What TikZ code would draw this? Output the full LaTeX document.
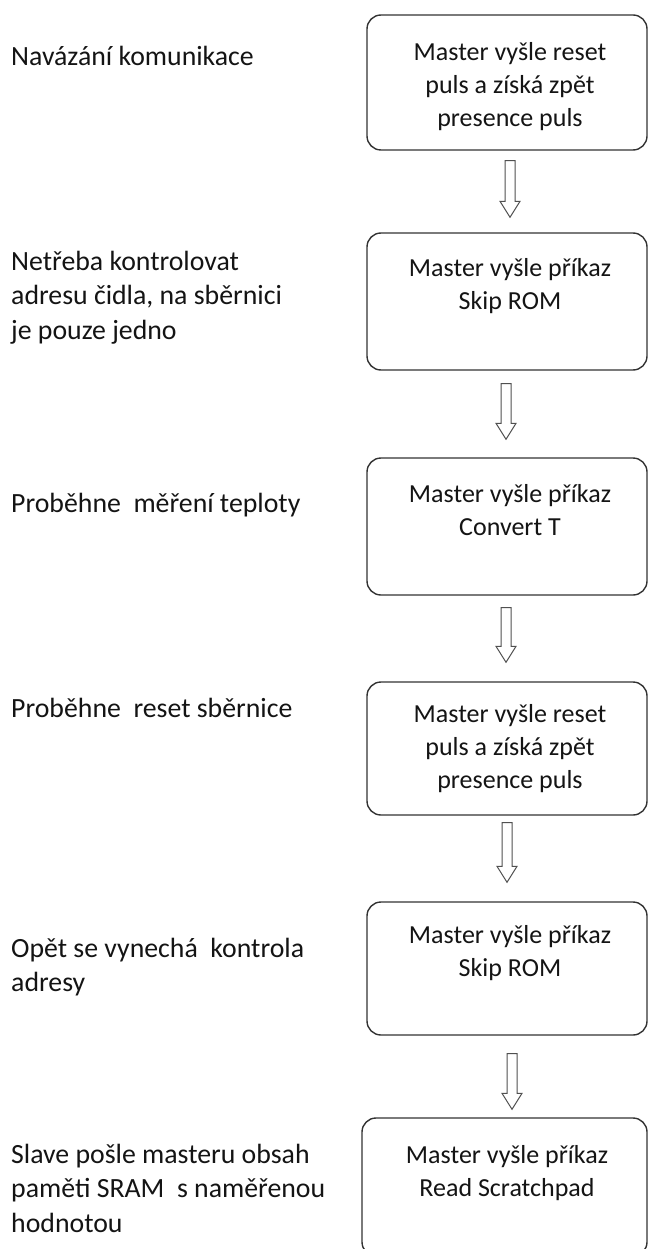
\documentclass[tikz,border=0pt]{standalone}
\usepackage{fontspec}
\setmainfont{Carlito}
\usetikzlibrary{calc}

\definecolor{boxline}{HTML}{333333}
\definecolor{arrowline}{HTML}{505050}
\definecolor{textcol}{HTML}{141414}

% fixed first-line height so that text nodes can be placed by their baseline
\newcommand\firstline{\rule{0pt}{25pt}}

% hollow block arrow between two boxes: from, to, x-shift, gap below, gap above
\newcommand\flowarrow[5]{%
  \path ($(#1.south)+(#3,#4)$) coordinate (#1-out)
        ($(#2.north)+(#3,-#5)$) coordinate (#2-in);
  \draw[hollow] let \p1=(#1-out), \p2=(#2-in) in
    (\x1-5pt,\y1) -- (\x1+5pt,\y1) -- (\x1+5pt,\y2+16pt) -- (\x1+10pt,\y2+16pt)
    -- (\x1,\y2) -- (\x1-10pt,\y2+16pt) -- (\x1-5pt,\y2+16pt) -- cycle;}

\tikzset{
  stepbox/.style={draw=boxline, line width=1.4pt, rounded corners=14pt,
    inner sep=0pt, fill=white},
  boxtext/.style={anchor=north, align=center, inner sep=0pt,
    font=\fontsize{26pt}{33pt}\selectfont, text=textcol},
  sidetext/.style={anchor=north west, align=left, inner sep=0pt,
    font=\fontsize{27.8pt}{34.5pt}\selectfont, text=textcol},
  hollow/.style={draw=arrowline, line width=1pt, fill=white, line join=miter}
}

\begin{document}
\begin{tikzpicture}[x=1pt, y=-1pt]
  \fill[white] (0,0) rectangle (649,1249);
  \useasboundingbox (0,0) rectangle (649,1249);

  % process boxes
  \node[stepbox, minimum width=280pt, minimum height=135pt] (b1) at (507,82.5) {};
  \node[stepbox, minimum width=280pt, minimum height=137pt] (b2) at (507,301.5) {};
  \node[stepbox, minimum width=280pt, minimum height=137pt] (b3) at (507,526.5) {};
  \node[stepbox, minimum width=280pt, minimum height=133pt] (b4) at (507,748.5) {};
  \node[stepbox, minimum width=280pt, minimum height=133pt] (b5) at (507,968.5) {};
  \node[stepbox, minimum width=285pt, minimum height=138pt] (b6) at (504.5,1187) {};

  % box texts
  \node[boxtext] (t1) at (510,35) {\firstline Master vyšle reset\\puls a získá zpět\\presence puls};
  \node[boxtext] (t2) at (510,251) {\firstline Master vyšle příkaz\\Skip ROM};
  \node[boxtext] (t3) at (510,477) {\firstline Master vyšle příkaz\\Convert T};
  \node[boxtext] (t4) at (510,697) {\firstline Master vyšle reset\\puls a získá zpět\\presence puls};
  \node[boxtext] (t5) at (510,918) {\firstline Master vyšle příkaz\\Skip ROM};
  \node[boxtext] (t6) at (507,1138) {\firstline Master vyšle příkaz\\Read Scratchpad};

  % descriptions on the left
  \node[sidetext] (s1) at (11,40) {\firstline Navázání komunikace};
  \node[sidetext] (s2) at (11,245) {\firstline Netřeba kontrolovat\\adresu čidla, na sběrnici\\je pouze jedno};
  \node[sidetext] (s3) at (11,487) {\firstline Proběhne\ \ měření teploty};
  \node[sidetext] (s4) at (11,692) {\firstline Proběhne\ \ reset sběrnice};
  \node[sidetext] (s5) at (11,932) {\firstline Opět se vynechá\ \ kontrola\\adresy};
  \node[sidetext] (s6) at (11,1138) {\firstline Slave pošle masteru obsah\\paměti SRAM\ \ s naměřenou\\hodnotou};

  % arrows between the steps
  \flowarrow{b1}{b2}{3}{10}{15}
  \flowarrow{b2}{b3}{-1}{13}{18}
  \flowarrow{b3}{b4}{-1}{12}{19}
  \flowarrow{b4}{b5}{0}{7}{19}
  \flowarrow{b5}{b6}{5}{18}{8}
\end{tikzpicture}
\end{document}
